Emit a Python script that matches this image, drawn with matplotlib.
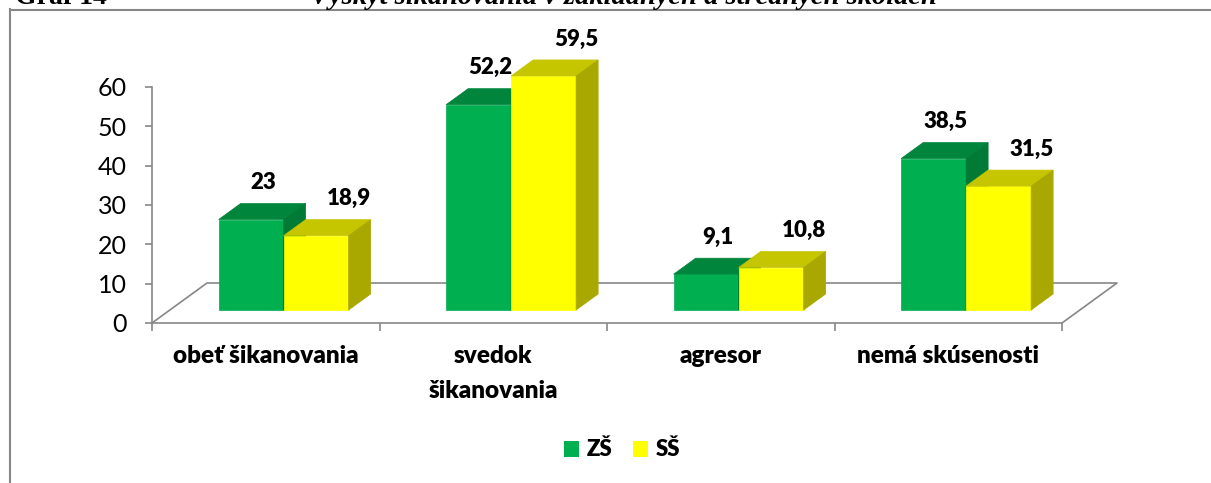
import matplotlib
matplotlib.use("Agg")
import matplotlib.pyplot as plt
from matplotlib.patches import Polygon, Patch
from matplotlib.lines import Line2D

# data
categories = ["obeť šikanovania", "svedok\nšikanovania", "agresor", "nemá skúsenosti"]
zs = [23, 52.2, 9.1, 38.5]
ss = [18.9, 59.5, 10.8, 31.5]
series_names = ["ZŠ", "SŠ"]

# colours: front, top, side
green = ("#00B050", "#00853D", "#007A35")
yellow = ("#FFFF00", "#C6C600", "#A8A800")
grey = "#878787"

plt.rcParams["font.family"] = ["Lato", "DejaVu Sans"]

W, H = 1211, 483
fig = plt.figure(figsize=(W / 100, H / 100), dpi=100)
ax = fig.add_axes([152 / W, (H - 323) / H, 910 / W, 236 / H])
ax.set_xlim(0, 4)
ax.set_ylim(0, 60)

px_x = 4 / 910     # category units per pixel
px_y = 60 / 236    # value units per pixel
DX, DY = 55 * px_x, 40 * px_y   # full floor depth
front, back = 0.325, 0.725     # bar depth within the floor
bw = 65 * px_x


def box(x0, h, cols):
    fx, fy = front * DX, front * DY
    bx, by = back * DX, back * DY
    f = [(x0 + fx, fy), (x0 + bw + fx, fy), (x0 + bw + fx, h + fy), (x0 + fx, h + fy)]
    t = [(x0 + fx, h + fy), (x0 + bw + fx, h + fy), (x0 + bw + bx, h + by), (x0 + bx, h + by)]
    s = [(x0 + bw + fx, fy), (x0 + bw + bx, by), (x0 + bw + bx, h + by), (x0 + bw + fx, h + fy)]
    for pts, c in zip((f, t, s), cols):
        ax.add_patch(Polygon(pts, closed=True, facecolor=c, edgecolor=c, lw=0.5,
                             clip_on=False, zorder=3))


# floor outline
ax.plot([0, DX, 4 + DX, 4], [0, DY, DY, 0], color=grey, lw=1.2, clip_on=False, zorder=1)

for i in range(len(categories)):
    for j, (vals, cols, off) in enumerate([(zs, green, -10), (ss, yellow, 11)]):
        x0 = i + 0.5 - bw + j * bw
        h = vals[i]
        box(x0, h, cols)
        ax.text(x0 + bw / 2 + back * DX + off * px_x, h + back * DY + 21 * px_y,
                f"{h:g}".replace(".", ","), ha="center", va="center",
                fontsize=16, fontweight="heavy", zorder=5)

# axes styling
for sp in ("top", "right"):
    ax.spines[sp].set_visible(False)
for sp in ("left", "bottom"):
    ax.spines[sp].set_color(grey)
    ax.spines[sp].set_linewidth(1.2)
ax.set_yticks(range(0, 61, 10))
ax.tick_params(axis="y", colors=grey, length=5, width=1.2, pad=13, labelsize=18,
               labelcolor="black")
ax.set_xticks(range(5))
ax.set_xticklabels([])
ax.tick_params(axis="x", which="major", colors=grey, length=6, width=1.2)
ax.set_xticks([i + 0.5 for i in range(4)], minor=True)
ax.set_xticklabels(categories, minor=True, fontsize=17.5, fontweight="heavy",
                   linespacing=1.7, va="top")
ax.tick_params(axis="x", which="minor", length=0, pad=16)
ax.patch.set_visible(False)

# legend
handles = [Patch(facecolor=green[0]), Patch(facecolor=yellow[0])]
fig.legend(handles, series_names, loc="center", bbox_to_anchor=(622 / W, 1 - 450 / H),
           ncol=2, frameon=False, prop={"weight": "heavy", "size": 16},
           handlelength=0.7, handleheight=0.7, handletextpad=0.35, columnspacing=0.9)

# outer frame
fig.add_artist(Line2D([10.5 / W, 10.5 / W], [0, 1 - 9 / H], color=grey, lw=1.5))
fig.add_artist(Line2D([10 / W, 1], [1 - 9.5 / H, 1 - 9.5 / H], color=grey, lw=1.5))

# caption cut off at the top edge, as in the source
fig.text(15 / W, 1 - 3.5 / H, "Graf 14", family="Liberation Serif", fontweight="bold",
         fontsize=20, va="baseline", ha="left")
fig.text(623 / W, 1 - 3.5 / H, "Výskyt šikanovania v základných a stredných školách",
         family="Liberation Serif", fontweight="bold", style="italic", fontsize=20.5,
         va="baseline", ha="center")

fig.savefig("out.png", dpi=100)
